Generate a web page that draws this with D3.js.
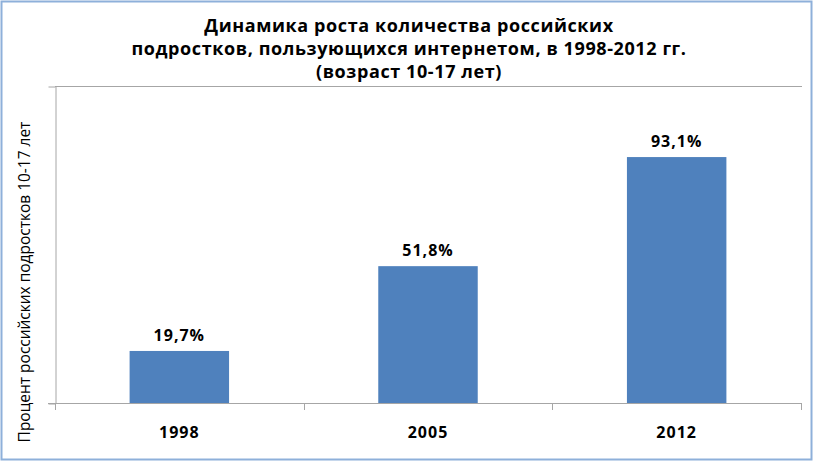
<!DOCTYPE html>
<html>
<head>
<meta charset="utf-8">
<script src="https://cdn.jsdelivr.net/npm/d3@7"></script>
<style>
  html, body { margin: 0; padding: 0; background: #fff; }
  svg { display: block; }
  .title { font-family: "Open Sans", sans-serif; font-weight: bold; font-size: 18px; letter-spacing: 0.6px; fill: #000; }
  .lbl { font-family: "Open Sans", sans-serif; font-weight: bold; font-size: 16px; letter-spacing: 1px; fill: #000; }
  .ytitle { font-family: "Open Sans", sans-serif; font-size: 15px; fill: #000; }
</style>
</head>
<body>
<svg id="chart" width="814" height="462"></svg>
<script>
// data
var years = ["1998", "2005", "2012"];
var shares = [19.7, 51.8, 93.1];
var shareLabels = ["19,7%", "51,8%", "93,1%"];
var titleLines = ["Динамика роста количества российских",
	"подростков, пользующихся интернетом, в 1998-2012 гг.",
	"(возраст 10-17 лет)"];
var yTitle = "Процент российских подростков 10-17 лет";

var svg = d3.select("#chart");

// outer frame
svg.append("rect")
	.attr("x", 1.5).attr("y", 1.5)
	.attr("width", 810).attr("height", 458)
	.attr("fill", "#fff")
	.attr("stroke", "#8eb0da")
	.attr("stroke-width", 2);

var plotL = 55, plotR = 801, plotT = 86, plotB = 403;

var x = d3.scaleBand().domain(years).range([plotL, plotR])
	.paddingInner(0.6).paddingOuter(0.3);
var y = d3.scaleLinear().domain([0, 120]).range([plotB, plotT]);

// top gridline (120)
svg.append("line")
	.attr("x1", plotL).attr("x2", plotR + 1)
	.attr("y1", y(120) + 0.5).attr("y2", y(120) + 0.5)
	.attr("stroke", "#a6a6a6");

// y axis, only end ticks, no labels
var yAxis = d3.axisLeft(y).tickValues([0, 120]).tickSize(7).tickSizeOuter(0).tickFormat("");
var gy = svg.append("g").attr("transform", "translate(" + (plotL + 0.5) + ",0.5)").call(yAxis);
gy.selectAll("line, path").attr("stroke", "#a6a6a6");

// bars
svg.selectAll("rect.bar")
	.data(years)
	.enter().append("rect")
	.attr("class", "bar")
	.attr("x", function(d) { return x(d); })
	.attr("y", function(d, i) { return y(shares[i]); })
	.attr("width", x.bandwidth())
	.attr("height", function(d, i) { return y(0) - y(shares[i]); })
	.attr("fill", "#4f81bd");

// x axis line with category boundary ticks
var bounds = d3.range(years.length + 1).map(function(i) { return plotL + i * (plotR - plotL) / years.length; });
svg.append("line")
	.attr("x1", plotL - 7).attr("x2", plotR)
	.attr("y1", plotB + 0.5).attr("y2", plotB + 0.5)
	.attr("stroke", "#a6a6a6");
svg.selectAll("line.xt")
	.data(bounds)
	.enter().append("line")
	.attr("class", "xt")
	.attr("x1", function(d) { return Math.round(d) + 0.5; })
	.attr("x2", function(d) { return Math.round(d) + 0.5; })
	.attr("y1", plotB).attr("y2", plotB + 7)
	.attr("stroke", "#a6a6a6");

// category labels
svg.selectAll("text.xl")
	.data(years)
	.enter().append("text")
	.attr("class", "lbl xl")
	.attr("x", function(d) { return x(d) + x.bandwidth() / 2; })
	.attr("y", 438)
	.attr("text-anchor", "middle")
	.text(function(d) { return d; });

// value labels
svg.selectAll("text.vl")
	.data(years)
	.enter().append("text")
	.attr("class", "lbl vl")
	.attr("x", function(d) { return x(d) + x.bandwidth() / 2; })
	.attr("y", function(d, i) { return y(shares[i]) - 10; })
	.attr("text-anchor", "middle")
	.text(function(d, i) { return shareLabels[i]; });

// title
svg.selectAll("text.title")
	.data(titleLines)
	.enter().append("text")
	.attr("class", "title")
	.attr("x", 409)
	.attr("y", function(d, i) { return 32 + i * 23; })
	.attr("text-anchor", "middle")
	.text(function(d) { return d; });

// y title, font size fitted to the span of the plot
var yt = svg.append("text")
	.attr("class", "ytitle")
	.attr("transform", "translate(30,282) rotate(-90)")
	.attr("text-anchor", "middle")
	.text(yTitle);
var w = yt.node().getComputedTextLength();
if (w > 0) yt.style("font-size", (15 * 321 / w) + "px");
</script>
</body>
</html>
